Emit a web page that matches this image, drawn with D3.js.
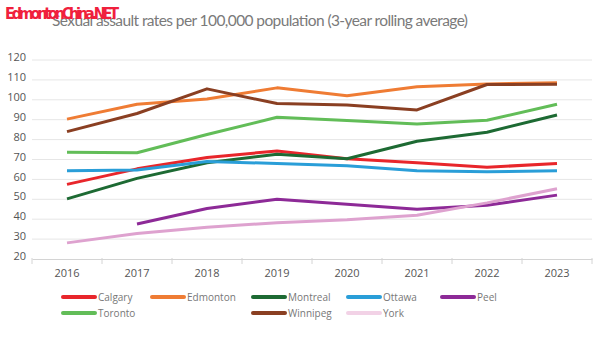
<!DOCTYPE html>
<html>
<head>
<meta charset="utf-8">
<script src="https://cdn.jsdelivr.net/npm/d3@7"></script>
<style>
  body { margin: 0; background: #fff; }
  svg { display: block; font-family: "Open Sans", "Noto Sans", sans-serif; }
</style>
</head>
<body>
<div id="chart"></div>
<script>
  // years on the x axis
  var years = ['2016', '2017', '2018', '2019', '2020', '2021', '2022', '2023'];
  var yTicks = [20, 30, 40, 50, 60, 70, 80, 90, 100, 110, 120];

  // 3-year rolling averages (null = no value)
  var calgary  = [57.5, 65.3, 71, 74.3, 70.4, 68.4, 66.1, 68];
  var edmonton = [90.3, 97.8, 100.4, 106, 102, 106.6, 108, 108.6];
  var montreal = [50.2, 60.5, 68.4, 72.6, 70.4, 79.2, 83.7, 92.4];
  var ottawa   = [64.4, 64.7, 69, 68, 66.9, 64.3, 63.9, 64.3];
  var peel     = [null, 37.6, 45.4, 50, 47.5, 45, 47, 52.1];
  var toronto  = [73.6, 73.4, 82.6, 91.2, 89.6, 87.8, 89.7, 97.8];
  var winnipeg = [84, 93.1, 105.5, 98.1, 97.4, 94.9, 107.7, 107.8];
  var york     = [28.1, 32.8, 36, 38.2, 39.7, 42, 48.2, 55.3];

  var series = [
    {name: 'Calgary',  values: calgary,  color: '#e8262b', legend: '#e8262b', slot: 0, row: 0},
    {name: 'Edmonton', values: edmonton, color: '#ef7c34', legend: '#ef7c34', slot: 1, row: 0},
    {name: 'Montreal', values: montreal, color: '#1d6a33', legend: '#1d6a33', slot: 2, row: 0},
    {name: 'Ottawa',   values: ottawa,   color: '#2a9ed8', legend: '#2a9ed8', slot: 3, row: 0},
    {name: 'Peel',     values: peel,     color: '#8d2a97', legend: '#8d2a97', slot: 4, row: 0},
    {name: 'Toronto',  values: toronto,  color: '#62bd58', legend: '#62bd58', slot: 0, row: 1},
    {name: 'Winnipeg', values: winnipeg, color: '#8a3f22', legend: '#8a3f22', slot: 2, row: 1},
    {name: 'York',     values: york,     color: '#dea2cf', legend: '#f2d2e6', slot: 3, row: 1}
  ];

  var width = 593, height = 343;
  var svg = d3.select('#chart').append('svg')
    .attr('width', width)
    .attr('height', height);

  var x = d3.scaleBand().domain(years).range([32, 592]);
  var y = d3.scaleLinear().domain([20, 120]).range([259, 60]);

  //title
  svg.append('text')
    .attr('x', 52)
    .attr('y', 26)
    .attr('fill', '#7a7a7a')
    .attr('font-family', 'Lato, "Open Sans", sans-serif')
    .attr('font-size', 15.5)
    .attr('textLength', 416)
    .text('Sexual assault rates per 100,000 population (3-year rolling average)');

  //watermark
  svg.append('text')
    .attr('x', 5)
    .attr('y', 19)
    .attr('fill', '#f0203c')
    .attr('font-family', '"Liberation Sans Narrow", "DejaVu Sans Condensed", sans-serif')
    .attr('font-weight', 'bold')
    .attr('font-size', 16)
    .attr('textLength', 114)
    .text('EdmontonChina.NET');

  //grid lines
  svg.append('g')
    .selectAll('line')
    .data(yTicks.slice(1))
    .enter().append('line')
    .attr('x1', 32).attr('x2', 592)
    .attr('y1', function(d){ return y(d); })
    .attr('y2', function(d){ return y(d); })
    .attr('stroke', '#e6e6e6')
    .attr('stroke-width', 1);

  //y labels
  svg.append('g')
    .selectAll('text')
    .data(yTicks)
    .enter().append('text')
    .attr('x', 26)
    .attr('y', function(d){ return y(d); })
    .attr('dy', '0.1em')
    .attr('text-anchor', 'end')
    .attr('fill', '#555')
    .attr('font-size', 11)
    .text(function(d){ return d; });

  //x axis
  var xAxis = svg.append('g')
    .attr('transform', 'translate(0,259)')
    .call(d3.axisBottom(x).tickSize(0).tickPadding(10));
  xAxis.select('.domain').attr('stroke', '#d4d4d4');
  xAxis.selectAll('text').attr('fill', '#555').attr('font-size', 11)
    .attr('font-family', '"Open Sans", sans-serif');

  //tick separators between bands
  xAxis.selectAll('.sep')
    .data(d3.range(years.length + 1))
    .enter().append('line')
    .attr('class', 'sep')
    .attr('x1', function(i){ return x.range()[0] + i * x.step(); })
    .attr('x2', function(i){ return x.range()[0] + i * x.step(); })
    .attr('y1', -1).attr('y2', 5)
    .attr('stroke', '#d4d4d4');

  //lines
  var line = d3.line()
    .defined(function(d){ return d !== null; })
    .x(function(d, i){ return x(years[i]) + x.bandwidth() / 2; })
    .y(function(d){ return y(d); });

  svg.append('g')
    .selectAll('path')
    .data(series)
    .enter().append('path')
    .attr('fill', 'none')
    .attr('stroke', function(d){ return d.color; })
    .attr('stroke-width', 3)
    .attr('stroke-linejoin', 'round')
    .attr('d', function(d){ return line(d.values); });

  //legend
  var slotX = [63, 152, 253, 348, 442];
  var legend = svg.append('g')
    .selectAll('g')
    .data(series)
    .enter().append('g')
    .attr('transform', function(d){
      return 'translate(' + slotX[d.slot] + ',' + (297 + d.row * 16) + ')';
    });

  legend.append('line')
    .attr('x1', 0).attr('x2', 32)
    .attr('stroke', function(d){ return d.legend; })
    .attr('stroke-width', 4)
    .attr('stroke-linecap', 'round');

  legend.append('text')
    .attr('x', 35)
    .attr('dy', '0.35em')
    .attr('fill', '#777')
    .attr('font-size', 10)
    .text(function(d){ return d.name; });
</script>
</body>
</html>
